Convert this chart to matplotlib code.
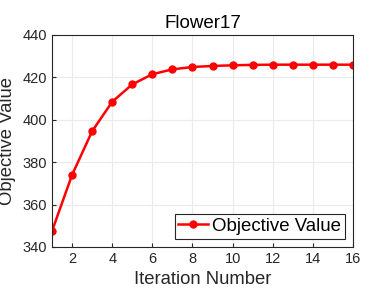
import numpy as np
import matplotlib
matplotlib.use("Agg")
import matplotlib.pyplot as plt

# valores
iteracoes = np.arange(1, 17)
objetivo = [347.5, 374.0, 394.6, 408.5, 416.7, 421.5, 423.8, 424.9,
            425.4, 425.7, 425.9, 426.0, 426.0, 426.0, 426.0, 426.0]
ticks_x = [2, 4, 6, 8, 10, 12, 14, 16]
ticks_y = [340, 360, 380, 400, 420, 440]

plt.rcParams['font.family'] = ['Liberation Sans', 'DejaVu Sans']

fig = plt.figure(figsize=(3.9, 2.93), dpi=100)
ax = fig.add_axes([52 / 390, 1 - 247 / 293, 301 / 390, 212 / 293])

ax.plot(iteracoes, objetivo, color="#ff0000", lw=1.8, marker="o", ms=5,
        label="Objective Value")

ax.set_xlim(1, 16)
ax.set_ylim(340, 440)
ax.set_xticks(ticks_x)
ax.set_yticks(ticks_y)
ax.grid(True, color="#ebebeb", lw=0.8)
ax.set_axisbelow(True)
ax.tick_params(direction="in", labelsize=10.5, colors="#262626", length=3)
for s in ax.spines.values():
    s.set_color("#262626")
    s.set_linewidth(0.8)

ax.set_title("Flower17", fontsize=13.5, color="black", pad=5)
ax.set_xlabel("Iteration Number", fontsize=13.3, color="#262626", labelpad=4)
ax.set_ylabel("Objective Value", fontsize=13.3, color="#262626", labelpad=5)

leg = ax.legend(loc="lower right", fontsize=13.4, fancybox=False,
                edgecolor="#262626", framealpha=1, handlelength=1.6,
                borderpad=0.2, handletextpad=0.2, borderaxespad=0.45)
leg.get_frame().set_linewidth(0.8)

fig.savefig("out.png", dpi=100)
